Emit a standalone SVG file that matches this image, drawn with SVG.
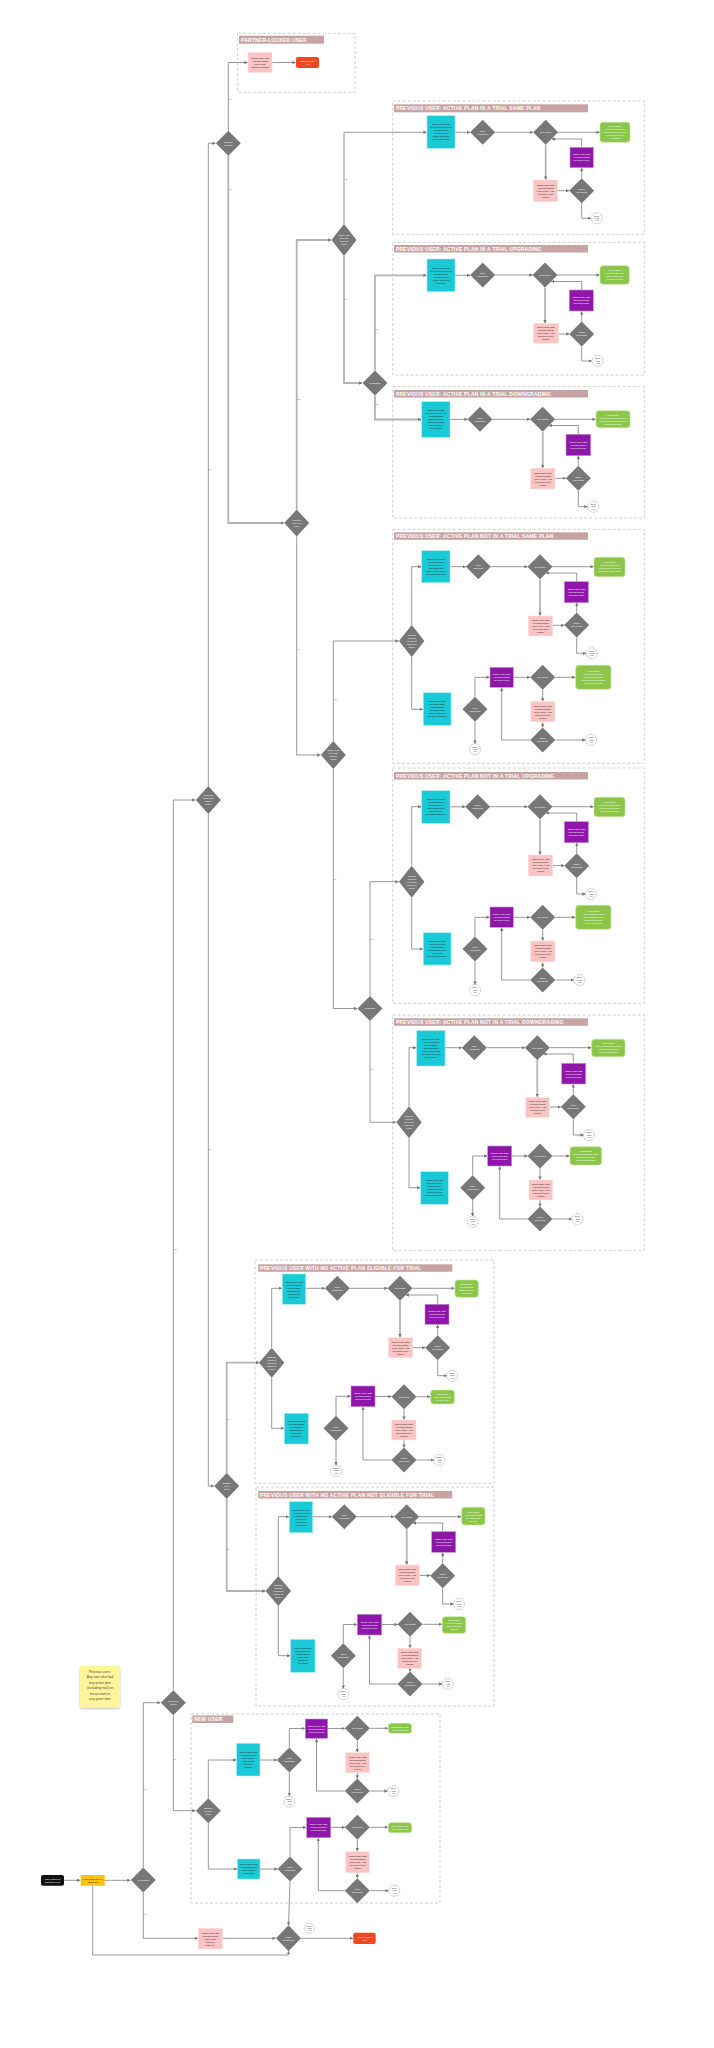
<svg xmlns="http://www.w3.org/2000/svg" width="714" height="2048" viewBox="0 0 714 2048">
<style>
.sec{fill:none;stroke:#cfcfcf;stroke-width:1;stroke-dasharray:3 2}
.tb{fill:#c8a3a3}
.tt{font-family:"Liberation Sans",Arial,sans-serif;font-weight:bold;font-size:5px;fill:#fff;letter-spacing:0.2px}
.d{fill:#777}
.cy{fill:#19c9d6;stroke:#a9ecf1;stroke-width:0.6}
.pu{fill:#8e16a8;stroke:#c68fd3;stroke-width:0.6}
.pk{fill:#fbc4c4;stroke:#fde0e0;stroke-width:0.6}
.gr{fill:#8bc64a;stroke:#c5e6a3;stroke-width:0.6}
.rd{fill:#f2461e}
.cc{fill:#fff;stroke:#555;stroke-width:0.45;stroke-dasharray:0.9 0.7}
.t{font-family:"Liberation Sans",Arial,sans-serif;font-size:2.5px;text-anchor:middle}
.w{fill:#fff}
.k{fill:#222}
.s{font-size:1.8px}
.c{fill:none;stroke:#8c8c8c;stroke-width:0.9;marker-end:url(#a)}
.th{stroke:#b4b4b4;stroke-width:1.8}
.lb{font-family:"Liberation Sans",Arial,sans-serif;font-size:2.4px;fill:#7070b8;text-anchor:middle}
</style>
<defs>
<marker id="a" viewBox="0 0 6 6" refX="5.5" refY="3" markerWidth="3.4" markerHeight="3.4" markerUnits="userSpaceOnUse" orient="auto"><path d="M0,0 L6,3 L0,6z" fill="#777"/></marker>
<filter id="sh" x="-20%" y="-20%" width="140%" height="150%"><feDropShadow dx="0" dy="1.5" stdDeviation="1.2" flood-color="#000" flood-opacity="0.25"/></filter>
</defs>

<g id="sections">
<rect class="sec" x="237.7" y="33.3" width="117.3" height="59"/>
<rect class="tb" x="239" y="35.7" width="85" height="8"/><text class="tt" x="241" y="41.6">PARTNER-LOCKED USER</text>
<rect class="sec" x="392.7" y="101" width="251.6" height="133.3"/>
<rect class="tb" x="394" y="104.3" width="194" height="8"/><text class="tt" x="396" y="110.2">PREVIOUS USER: ACTIVE PLAN IN A TRIAL SAME PLAN</text>
<rect class="sec" x="392.7" y="242.3" width="251.6" height="132.7"/>
<rect class="tb" x="394" y="245" width="194" height="7.5"/><text class="tt" x="396" y="250.7">PREVIOUS USER: ACTIVE PLAN IN A TRIAL UPGRADING</text>
<rect class="sec" x="392.7" y="386.7" width="251.6" height="131.3"/>
<rect class="tb" x="394" y="390" width="194" height="7.5"/><text class="tt" x="396" y="395.7">PREVIOUS USER: ACTIVE PLAN IN A TRIAL DOWNGRADING</text>
<rect class="sec" x="392.7" y="529.3" width="251.6" height="234"/>
<rect class="tb" x="394" y="532.3" width="194" height="7.5"/><text class="tt" x="396" y="538">PREVIOUS USER: ACTIVE PLAN NOT IN A TRIAL SAME PLAN</text>
<rect class="sec" x="392.7" y="768" width="251.6" height="235.3"/>
<rect class="tb" x="394" y="772" width="194" height="7.5"/><text class="tt" x="396" y="777.7">PREVIOUS USER: ACTIVE PLAN NOT IN A TRIAL UPGRADING</text>
<rect class="sec" x="392.7" y="1015" width="251.6" height="235.7"/>
<rect class="tb" x="394" y="1018.3" width="194" height="7.5"/><text class="tt" x="396" y="1024">PREVIOUS USER: ACTIVE PLAN NOT IN A TRIAL DOWNGRADING</text>
<rect class="sec" x="255" y="1260" width="239" height="223.3"/>
<rect class="tb" x="258.3" y="1264.3" width="194" height="7.5"/><text class="tt" x="260" y="1270">PREVIOUS USER WITH NO ACTIVE PLAN ELIGIBLE FOR TRIAL</text>
<rect class="sec" x="256" y="1487" width="238" height="219"/>
<rect class="tb" x="258.3" y="1491" width="194" height="7.5"/><text class="tt" x="260" y="1496.7">PREVIOUS USER WITH NO ACTIVE PLAN NOT ELIGIBLE FOR TRIAL</text>
<rect class="sec" x="191" y="1714" width="249" height="189"/>
<rect class="tb" x="192.3" y="1715.5" width="41" height="7.5"/><text class="tt" x="194" y="1721.2">NEW USER</text>
</g>

<g id="connectors">
<path class="c" d="M64,1880.3 H80.2"/>
<path class="c" d="M104.7,1880.3 H130.3"/>
<path class="c" d="M143.3,1867.5 V1702.7 H160.3"/>
<path class="c" d="M173.3,1690.2 V800 H195.3"/>
<path class="c" d="M208.3,786 V143.3 H215.3"/>
<path class="c" d="M208.3,814 V1486 H213.7"/>
<path class="c" d="M228.3,130.8 V62.5 H247.5"/>
<path class="c" d="M272,62.5 H295.5"/>
<path class="c th" d="M228.3,155.8 V523 H283.7"/>
<path class="c th" d="M296.7,509.5 V240 H331"/>
<path class="c" d="M296.7,536.5 V755 H320.3"/>
<path class="c th" d="M344,256 V383 H362"/>
<path class="c" d="M333.3,769 V1008.5 H357"/>
<path class="c" d="M143.3,1892.5 V1938.3 H197.8"/>
<path class="c" d="M222.3,1938.3 H275.5"/>
<path class="c" d="M301,1938.3 H352.8"/>
<path class="c" d="M92.7,1885.7 V1955 H288.5 V1951.3"/>
<path class="c" d="M173.3,1715.2 V1810.7 H195.3"/>
<path class="c th" d="M226.7,1473 V1362.7 H259"/>
<path class="c th" d="M226.7,1499 V1591 H265.3"/>
<!-- S1 -->
<path class="c" d="M344,224 V132.3 H426.5"/>
<path class="c" d="M455,132.3 H470"/>
<path class="c" d="M495.2,132.3 H533"/>
<path class="c" d="M558.2,132.3 H599.5"/>
<path class="c th" d="M545.7,144.8 V179.5"/>
<path class="c" d="M557.7,190.7 H569"/>
<path class="c" d="M581.7,178.2 V168"/>
<path class="c" d="M581.7,147.3 V139 H552"/>
<path class="c" d="M581.7,203.2 V218.3 H590.8"/>
<!-- S2 -->
<path class="c th" d="M375,370.5 V275.3 H426.5"/>
<path class="c" d="M455,275.3 H470.2"/>
<path class="c" d="M495.2,275 H532.5"/>
<path class="c" d="M557.5,275 H599.5"/>
<path class="c th" d="M545,287.5 V323"/>
<path class="c" d="M558.3,334 H569.2"/>
<path class="c" d="M581.7,321.5 V311.5"/>
<path class="c" d="M581.7,290 V281.5 H551.3"/>
<path class="c" d="M581.7,346.5 V361 H591.7"/>
<!-- S3 -->
<path class="c th" d="M375,395.5 V419.5 H421.2"/>
<path class="c" d="M450,419.4 H467.5"/>
<path class="c" d="M492.5,419.3 H530.2"/>
<path class="c" d="M555.2,419.3 H595.5"/>
<path class="c th" d="M542.7,431.8 V467.8"/>
<path class="c" d="M555,478.3 H565.8"/>
<path class="c" d="M578.3,465.8 V456"/>
<path class="c" d="M578.3,434.3 V425.5 H549"/>
<path class="c" d="M578.3,490.8 V506.7 H587.5"/>
<!-- S4 -->
<path class="c" d="M333.3,741 V641 H398.5"/>
<path class="c" d="M411.7,625 V566.7 H421.2"/>
<path class="c" d="M411.7,657 V709.3 H422.8"/>
<path class="c" d="M450,566.7 H465.8"/>
<path class="c" d="M490.8,566.7 H527.5"/>
<path class="c" d="M552.5,566.7 H593.5"/>
<path class="c th" d="M540,579.2 V615.5"/>
<path class="c" d="M552.7,625.3 H564.2"/>
<path class="c" d="M576.7,612.5 V603"/>
<path class="c" d="M576.7,581.7 V573 H546.3"/>
<path class="c" d="M576.7,637.5 V653.3 H586"/>
<path class="c" d="M475,696.8 V677.3 H489.5"/>
<path class="c" d="M475,721.8 V743.5"/>
<path class="c" d="M513.3,677.3 H530"/>
<path class="c" d="M555.2,677.3 H575.2"/>
<path class="c" d="M542.7,689.8 V701.2"/>
<path class="c" d="M542.7,721.7 V727.3"/>
<path class="c" d="M530.2,740 H501.7 V688"/>
<path class="c" d="M555.2,740 H585.3"/>
<!-- S5 -->
<path class="c" d="M370,996 V881.7 H398.5"/>
<path class="c" d="M411.7,865.7 V806.7 H421.2"/>
<path class="c" d="M411.7,897.7 V949 H422.8"/>
<path class="c" d="M450,806.8 H465.2"/>
<path class="c" d="M490.2,806.7 H527.5"/>
<path class="c" d="M552.5,806.7 H593.5"/>
<path class="c th" d="M540,819.2 V854.5"/>
<path class="c" d="M552.7,865.6 H564.2"/>
<path class="c" d="M576.7,853.2 V843.2"/>
<path class="c" d="M576.7,821.7 V813 H546.2"/>
<path class="c" d="M576.7,878.2 V894 H585.5"/>
<path class="c" d="M475,936.5 V917.3 H489.5"/>
<path class="c" d="M475,961.5 V984.5"/>
<path class="c" d="M513.3,917.3 H530"/>
<path class="c" d="M555.2,917.3 H575.2"/>
<path class="c" d="M542.7,929.8 V940.5"/>
<path class="c" d="M542.7,961.7 V967.3"/>
<path class="c" d="M530.2,980 H501.7 V927.8"/>
<path class="c" d="M555.2,980 H573.8"/>
<!-- S6 -->
<path class="c" d="M370,1021 V1122.3 H395.8"/>
<path class="c" d="M409,1106.3 V1047.7 H416.2"/>
<path class="c" d="M409,1138.3 V1187.7 H420.2"/>
<path class="c" d="M445,1047.7 H461.8"/>
<path class="c" d="M486.8,1047.7 H524.8"/>
<path class="c" d="M549.8,1047.7 H591.2"/>
<path class="c th" d="M537.3,1060.2 V1096.8"/>
<path class="c" d="M549.3,1107 H560.8"/>
<path class="c" d="M573.3,1094.2 V1084.5"/>
<path class="c" d="M573.3,1063.3 V1054 H543.5"/>
<path class="c" d="M573.3,1119.2 V1135 H583.5"/>
<path class="c" d="M472.7,1175.2 V1156 H487.2"/>
<path class="c" d="M472.7,1200.2 V1216.2"/>
<path class="c" d="M511.7,1156 H527.5"/>
<path class="c" d="M552.5,1156 H569.5"/>
<path class="c" d="M540,1168.5 V1179.5"/>
<path class="c" d="M540,1200 V1206.5"/>
<path class="c" d="M527.5,1219 H499.7 V1166.5"/>
<path class="c" d="M552.5,1219 H571.8"/>
<!-- S7 -->
<path class="c" d="M271.7,1347.7 V1288.3 H281.8"/>
<path class="c" d="M271.7,1377.7 V1428.3 H283.8"/>
<path class="c" d="M305.7,1288.3 H324.8"/>
<path class="c" d="M349.8,1288.3 H387.5"/>
<path class="c" d="M412.5,1288.3 H454.5"/>
<path class="c th" d="M400,1300.8 V1337.2"/>
<path class="c" d="M412.7,1347.7 H425.2"/>
<path class="c" d="M437.7,1335.2 V1324.8"/>
<path class="c" d="M437.7,1304.3 V1295 H405.8"/>
<path class="c" d="M437.7,1360.2 V1375.7 H446.8"/>
<path class="c" d="M336,1415.8 V1396.3 H350.5"/>
<path class="c" d="M336,1440.8 V1465.2"/>
<path class="c" d="M375,1396.5 H391.5"/>
<path class="c" d="M416.5,1396.7 H430.2"/>
<path class="c" d="M404,1409.2 V1419.5"/>
<path class="c" d="M404,1440 V1447.5"/>
<path class="c" d="M391.5,1460 H363 V1407.2"/>
<path class="c" d="M416.5,1460 H433.8"/>
<!-- S8 -->
<path class="c" d="M278.3,1576 V1516.7 H288.8"/>
<path class="c" d="M278.3,1606 V1655.7 H290.2"/>
<path class="c" d="M312.7,1516.8 H331.8"/>
<path class="c" d="M356.8,1516.7 H394.2"/>
<path class="c" d="M419.2,1516.7 H461.2"/>
<path class="c th" d="M406.7,1529.2 V1564.5"/>
<path class="c" d="M419.3,1575.5 H430.2"/>
<path class="c" d="M442.7,1563.2 V1552.8"/>
<path class="c" d="M442.7,1531.7 V1523 H412.9"/>
<path class="c" d="M442.7,1588.2 V1604 H453.5"/>
<path class="c" d="M343.3,1643.2 V1624.5 H356.8"/>
<path class="c" d="M343.3,1668.2 V1688.5"/>
<path class="c" d="M381.7,1624.5 H397.5"/>
<path class="c" d="M422.5,1624.3 H441.8"/>
<path class="c" d="M410,1636.8 V1647.8"/>
<path class="c" d="M410,1668.3 V1671.5"/>
<path class="c" d="M397.5,1684 H369.5 V1635.5"/>
<path class="c" d="M422.5,1684 H442.2"/>
<!-- S9 -->
<path class="c" d="M208.3,1798.2 V1760 H236.2"/>
<path class="c" d="M208.3,1823.2 V1869 H236.8"/>
<path class="c" d="M260,1760 H276.8"/>
<path class="c" d="M289.3,1747.5 V1728.5 H304.8"/>
<path class="c" d="M289.3,1772.5 V1795.8"/>
<path class="c" d="M327.7,1728.5 H344.8"/>
<path class="c" d="M369.8,1728.3 H387.8"/>
<path class="c" d="M357.3,1740.8 V1752.2"/>
<path class="c" d="M357.3,1772.7 V1778.3"/>
<path class="c" d="M344.8,1791 H316.5 V1738.8"/>
<path class="c" d="M369.8,1791 H387.5"/>
<path class="c" d="M260,1869 H277.5"/>
<path class="c" d="M290,1856.5 V1827.5 H306.2"/>
<path class="c" d="M330.7,1827.4 H344.8"/>
<path class="c" d="M369.8,1827.3 H387.8"/>
<path class="c" d="M357.3,1839.8 V1851.2"/>
<path class="c" d="M357.3,1872.7 V1878"/>
<path class="c" d="M344.8,1890.7 H318.3 V1838.2"/>
<path class="c" d="M369.8,1890.7 H388.5"/>
<path class="c" d="M290,1881.5 L288.5,1925.3"/>
<!-- trunk labels -->
<text class="lb" x="229.8" y="100">Yes</text>
<text class="lb" x="229.8" y="190">No</text>
<text class="lb" x="209.8" y="470">Yes</text>
<text class="lb" x="209.8" y="1150">No</text>
<text class="lb" x="298.2" y="400">Yes</text>
<text class="lb" x="298.2" y="650">No</text>
<text class="lb" x="345.5" y="180">Yes</text>
<text class="lb" x="345.5" y="300">No</text>
<text class="lb" x="376.5" y="330">Yes</text>
<text class="lb" x="376.5" y="405">No</text>
<text class="lb" x="334.8" y="700">Yes</text>
<text class="lb" x="334.8" y="880">No</text>
<text class="lb" x="371.5" y="940">Yes</text>
<text class="lb" x="371.5" y="1070">No</text>
<text class="lb" x="228.2" y="1420">Yes</text>
<text class="lb" x="228.2" y="1550">No</text>
<text class="lb" x="174.8" y="1250">Yes</text>
<text class="lb" x="174.8" y="1760">No</text>
<text class="lb" x="144.8" y="1790">Yes</text>
<text class="lb" x="144.8" y="1915">No</text>
</g>

<g id="start"><rect x="41" y="1875" width="23" height="10.7" rx="2" fill="#111"/><text class="t w" x="52.5" y="1879.7"><tspan x="52.5">User clicks on</tspan><tspan x="52.5" dy="3">subscribe link</tspan></text></g>
<g id="checkout"><rect x="80.7" y="1875" width="24" height="10.7" fill="#ffc20e"/><text class="t k" x="92.7" y="1879.7"><tspan x="92.7">User redirected to</tspan><tspan x="92.7" dy="3">checkout</tspan></text></g>
<g id="note"><rect x="80" y="1666" width="40" height="41.3" fill="#fff59b" filter="url(#sh)"/><text x="100" y="1673" font-family="Liberation Sans, Arial, sans-serif" font-size="3.3" fill="#444" text-anchor="middle"><tspan x="100">Previous users:</tspan><tspan x="100" dy="5.4">Any user who had</tspan><tspan x="100" dy="5.4">any active plan</tspan><tspan x="100" dy="5.4">(including trial) on</tspan><tspan x="100" dy="5.4">his account in</tspan><tspan x="100" dy="5.4">any given time</tspan></text></g>
<g id="d_logged"><polygon class="d" points="143.3,1867.5 155.8,1880 143.3,1892.5 130.8,1880"/><text class="t w" x="143.3" y="1880.9">Is logged?</text></g>
<g id="d_prev"><polygon class="d" points="173.3,1690.2 185.8,1702.7 173.3,1715.2 160.8,1702.7"/><text class="t w" x="173.3" y="1702.1"><tspan x="173.3">Previous</tspan><tspan x="173.3" dy="3">user?</tspan></text></g>
<g id="d_active"><polygon class="d" points="208.3,786 220.8,800 208.3,814 195.8,800"/><text class="t w" x="208.3" y="796.4"><tspan x="208.3">Previous</tspan><tspan x="208.3" dy="3">user with</tspan><tspan x="208.3" dy="3">active</tspan><tspan x="208.3" dy="3">plan?</tspan></text></g>
<g id="d_partner"><polygon class="d" points="228.3,130.8 240.8,143.3 228.3,155.8 215.8,143.3"/><text class="t w" x="228.3" y="142.7"><tspan x="228.3">Partner</tspan><tspan x="228.3" dy="3">locked?</tspan></text></g>
<g id="partner_err"><rect class="pk" x="248" y="52.5" width="24" height="20"/><text class="t k" x="260" y="58.9"><tspan x="260">Show page with</tspan><tspan x="260" dy="3">corresponding</tspan><tspan x="260" dy="3">error code</tspan><tspan x="260" dy="3">(Partner locked)</tspan></text></g>
<g id="partner_exit"><rect class="rd" x="296" y="57" width="23" height="11" rx="2"/><text class="t w" x="307.5" y="61.9"><tspan x="307.5">Unsuccessful</tspan><tspan x="307.5" dy="3">exit</tspan></text></g>
<g id="d_trial"><polygon class="d" points="296.7,509.5 309.2,523 296.7,536.5 284.2,523"/><text class="t w" x="296.7" y="520.9"><tspan x="296.7">Is active</tspan><tspan x="296.7" dy="3">plan in a</tspan><tspan x="296.7" dy="3">trial?</tspan></text></g>
<g id="d_same1"><polygon class="d" points="344,224 356.5,240 344,256 331.5,240"/><text class="t w" x="344" y="236.4"><tspan x="344">Same plan</tspan><tspan x="344" dy="3">as in the</tspan><tspan x="344" dy="3">current</tspan><tspan x="344" dy="3">plan?</tspan></text></g>
<g id="d_up1"><polygon class="d" points="375,370.5 387.5,383 375,395.5 362.5,383"/><text class="t w" x="375" y="383.9">Upgrade?</text></g>
<g id="d_same2"><polygon class="d" points="333.3,741 345.8,755 333.3,769 320.8,755"/><text class="t w" x="333.3" y="751.4"><tspan x="333.3">Same plan</tspan><tspan x="333.3" dy="3">as in the</tspan><tspan x="333.3" dy="3">current</tspan><tspan x="333.3" dy="3">plan?</tspan></text></g>
<g id="d_up2"><polygon class="d" points="370,996 382.5,1008.5 370,1021 357.5,1008.5"/><text class="t w" x="370" y="1009.4">Upgrade?</text></g>
<g id="d_elig"><polygon class="d" points="226.7,1473 239.2,1486 226.7,1499 214.2,1486"/><text class="t w" x="226.7" y="1483.9"><tspan x="226.7">Eligible</tspan><tspan x="226.7" dy="3">for a</tspan><tspan x="226.7" dy="3">trial?</tspan></text></g>

<!-- S1 -->
<g id="s1_cyan"><rect class="cy" x="427" y="115.7" width="28" height="32.6"/><text class="t k" x="441" y="125.4"><tspan x="441">Show page with</tspan><tspan x="441" dy="3">corresponding plan</tspan><tspan x="441" dy="3">confirmation</tspan><tspan x="441" dy="3">(Existing plan</tspan><tspan x="441" dy="3">active with trial</tspan><tspan x="441" dy="3">expiration date)</tspan></text></g>
<g id="s1_uc"><polygon class="d" points="482.7,119.8 495.2,132.3 482.7,144.8 470.2,132.3"/><text class="t w" x="482.7" y="131.7"><tspan x="482.7">User</tspan><tspan x="482.7" dy="3">confirms?</tspan></text></g>
<g id="s1_iv"><polygon class="d" points="545.7,119.8 558.2,132.3 545.7,144.8 533.2,132.3"/><text class="t w" x="545.7" y="133.2">Is it valid?</text></g>
<g id="s1_green"><rect class="gr" x="600" y="122.3" width="30" height="20" rx="3"/><text class="t w" x="615" y="127.2"><tspan x="615">Successful</tspan><tspan x="615" dy="3">exit; keeping user</tspan><tspan x="615" dy="3">active with previous</tspan><tspan x="615" dy="3">payment in trial</tspan><tspan x="615" dy="3">expiration</tspan></text></g>
<g id="s1_purple"><rect class="pu" x="570" y="147.3" width="23.3" height="20.4"/><text class="t w" x="581.65" y="155.4"><tspan x="581.65">Show page with</tspan><tspan x="581.65" dy="3">corresponding</tspan><tspan x="581.65" dy="3">payment page</tspan></text></g>
<g id="s1_pink"><rect class="pk" x="533.3" y="180" width="24.4" height="21.7"/><text class="t k" x="545.5" y="185.75"><tspan x="545.5">Show page with</tspan><tspan x="545.5" dy="3">corresponding</tspan><tspan x="545.5" dy="3">error code (And</tspan><tspan x="545.5" dy="3">payment error</tspan><tspan x="545.5" dy="3">codes)</tspan></text></g>
<g id="s1_op"><polygon class="d" points="581.7,178.2 594.2,190.7 581.7,203.2 569.2,190.7"/><text class="t w" x="581.7" y="190.1"><tspan x="581.7">Other</tspan><tspan x="581.7" dy="3">payment?</tspan></text></g>
<g id="s1_exit"><circle class="cc" cx="596.7" cy="218.3" r="5.5"/><text class="t k s" x="596.7" y="216.7"><tspan x="596.7">Expire</tspan><tspan x="596.7" dy="2.2">/ close</tspan><tspan x="596.7" dy="2.2">/ exit</tspan></text></g>

<!-- S2 -->
<g id="s2_cyan"><rect class="cy" x="427" y="259" width="28" height="32.7"/><text class="t k" x="441" y="268.75"><tspan x="441">Show page with</tspan><tspan x="441" dy="3">corresponding plan</tspan><tspan x="441" dy="3">confirmation</tspan><tspan x="441" dy="3">(Existing plan</tspan><tspan x="441" dy="3">active with trial</tspan><tspan x="441" dy="3">upgrade)</tspan></text></g>
<g id="s2_uc"><polygon class="d" points="482.7,262.5 495.2,275 482.7,287.5 470.2,275"/><text class="t w" x="482.7" y="274.4"><tspan x="482.7">User</tspan><tspan x="482.7" dy="3">confirms?</tspan></text></g>
<g id="s2_iv"><polygon class="d" points="545,262.5 557.5,275 545,287.5 532.5,275"/><text class="t w" x="545" y="275.9">Is it valid?</text></g>
<g id="s2_green"><rect class="gr" x="600" y="265.7" width="29.3" height="18.6" rx="3"/><text class="t w" x="614.65" y="271.4"><tspan x="614.65">Successful</tspan><tspan x="614.65" dy="3">exit; keeping user</tspan><tspan x="614.65" dy="3">active with plan</tspan><tspan x="614.65" dy="3">upgrade in trial</tspan></text></g>
<g id="s2_purple"><rect class="pu" x="569.3" y="290" width="24" height="21"/><text class="t w" x="581.3" y="298.4"><tspan x="581.3">Show page with</tspan><tspan x="581.3" dy="3">corresponding</tspan><tspan x="581.3" dy="3">payment page</tspan></text></g>
<g id="s2_pink"><rect class="pk" x="533.3" y="323.3" width="25" height="20"/><text class="t k" x="545.8" y="328.2"><tspan x="545.8">Show page with</tspan><tspan x="545.8" dy="3">corresponding</tspan><tspan x="545.8" dy="3">error code (And</tspan><tspan x="545.8" dy="3">payment error</tspan><tspan x="545.8" dy="3">codes)</tspan></text></g>
<g id="s2_op"><polygon class="d" points="581.7,321.5 594.2,334 581.7,346.5 569.2,334"/><text class="t w" x="581.7" y="333.4"><tspan x="581.7">Other</tspan><tspan x="581.7" dy="3">payment?</tspan></text></g>
<g id="s2_exit"><circle class="cc" cx="597.7" cy="361" r="5.5"/><text class="t k s" x="597.7" y="359.4"><tspan x="597.7">Expire</tspan><tspan x="597.7" dy="2.2">/ close</tspan><tspan x="597.7" dy="2.2">/ exit</tspan></text></g>

<!-- S3 -->
<g id="s3_cyan"><rect class="cy" x="421.7" y="401.7" width="28.3" height="35.6"/><text class="t k" x="435.85" y="411.4"><tspan x="435.85">Show page with</tspan><tspan x="435.85" dy="3">corresponding plan</tspan><tspan x="435.85" dy="3">confirmation</tspan><tspan x="435.85" dy="3">(Existing plan</tspan><tspan x="435.85" dy="3">active with trial</tspan><tspan x="435.85" dy="3">downgrade in</tspan><tspan x="435.85" dy="3">next billing)</tspan></text></g>
<g id="s3_uc"><polygon class="d" points="480,406.8 492.5,419.3 480,431.8 467.5,419.3"/><text class="t w" x="480" y="418.7"><tspan x="480">User</tspan><tspan x="480" dy="3">confirms?</tspan></text></g>
<g id="s3_iv"><polygon class="d" points="542.7,406.8 555.2,419.3 542.7,431.8 530.2,419.3"/><text class="t w" x="542.7" y="420.2">Is it valid?</text></g>
<g id="s3_green"><rect class="gr" x="596" y="410.7" width="34" height="17" rx="3"/><text class="t w" x="613" y="415.6"><tspan x="613">Successful</tspan><tspan x="613" dy="3">exit; keeping user active</tspan><tspan x="613" dy="3">with previous payment in</tspan><tspan x="613" dy="3">trial downgrade</tspan></text></g>
<g id="s3_purple"><rect class="pu" x="566" y="434.3" width="24.7" height="21.4"/><text class="t w" x="578.35" y="442.9"><tspan x="578.35">Show page with</tspan><tspan x="578.35" dy="3">corresponding</tspan><tspan x="578.35" dy="3">payment page</tspan></text></g>
<g id="s3_pink"><rect class="pk" x="530.7" y="468.3" width="24.3" height="20.7"/><text class="t k" x="542.85" y="473.55"><tspan x="542.85">Show page with</tspan><tspan x="542.85" dy="3">corresponding</tspan><tspan x="542.85" dy="3">error code (And</tspan><tspan x="542.85" dy="3">payment error</tspan><tspan x="542.85" dy="3">codes)</tspan></text></g>
<g id="s3_op"><polygon class="d" points="578.3,465.8 590.8,478.3 578.3,490.8 565.8,478.3"/><text class="t w" x="578.3" y="477.7"><tspan x="578.3">Other</tspan><tspan x="578.3" dy="3">payment?</tspan></text></g>
<g id="s3_exit"><circle class="cc" cx="593.3" cy="506.7" r="5.5"/><text class="t k s" x="593.3" y="505.1"><tspan x="593.3">Expire</tspan><tspan x="593.3" dy="2.2">/ close</tspan><tspan x="593.3" dy="2.2">/ exit</tspan></text></g>

<!-- S4 -->
<g id="s4_choose"><polygon class="d" points="411.7,625 424.4,641 411.7,657 399,641"/><text class="t w" x="411.7" y="636"><tspan x="411.7">Choose</tspan><tspan x="411.7" dy="3">current</tspan><tspan x="411.7" dy="3">payment</tspan><tspan x="411.7" dy="3">option or</tspan><tspan x="411.7" dy="3">new?</tspan></text></g>
<g id="s4_cyan1"><rect class="cy" x="421.7" y="550.7" width="28.3" height="32"/><text class="t k" x="435.85" y="560.1"><tspan x="435.85">Show page with</tspan><tspan x="435.85" dy="3">corresponding</tspan><tspan x="435.85" dy="3">confirmation</tspan><tspan x="435.85" dy="3">(Existing plan</tspan><tspan x="435.85" dy="3">active with current</tspan><tspan x="435.85" dy="3">payment method)</tspan></text></g>
<g id="s4_uc1"><polygon class="d" points="478.3,554.2 490.8,566.7 478.3,579.2 465.8,566.7"/><text class="t w" x="478.3" y="566.1"><tspan x="478.3">User</tspan><tspan x="478.3" dy="3">confirms?</tspan></text></g>
<g id="s4_iv1"><polygon class="d" points="540,554.2 552.5,566.7 540,579.2 527.5,566.7"/><text class="t w" x="540" y="567.6">Is it valid?</text></g>
<g id="s4_green1"><rect class="gr" x="594" y="557.3" width="31" height="19.4" rx="3"/><text class="t w" x="609.5" y="563.4"><tspan x="609.5">Successful</tspan><tspan x="609.5" dy="3">exit; keeping user</tspan><tspan x="609.5" dy="3">active with previous</tspan><tspan x="609.5" dy="3">payment in the plan</tspan></text></g>
<g id="s4_purple1"><rect class="pu" x="564.3" y="581.7" width="24" height="21"/><text class="t w" x="576.3" y="590.1"><tspan x="576.3">Show page with</tspan><tspan x="576.3" dy="3">corresponding</tspan><tspan x="576.3" dy="3">payment page</tspan></text></g>
<g id="s4_pink1"><rect class="pk" x="528.3" y="616" width="24.4" height="20"/><text class="t k" x="540.5" y="620.9"><tspan x="540.5">Show page with</tspan><tspan x="540.5" dy="3">corresponding</tspan><tspan x="540.5" dy="3">error code (And</tspan><tspan x="540.5" dy="3">payment error</tspan><tspan x="540.5" dy="3">codes)</tspan></text></g>
<g id="s4_op1"><polygon class="d" points="576.7,612.5 589.2,625 576.7,637.5 564.2,625"/><text class="t w" x="576.7" y="624.4"><tspan x="576.7">Other</tspan><tspan x="576.7" dy="3">payment?</tspan></text></g>
<g id="s4_exit1"><circle class="cc" cx="591.7" cy="653.3" r="5.5"/><text class="t k s" x="591.7" y="651.7"><tspan x="591.7">Expire</tspan><tspan x="591.7" dy="2.2">/ close</tspan><tspan x="591.7" dy="2.2">/ exit</tspan></text></g>
<g id="s4_cyan2"><rect class="cy" x="423.3" y="692.7" width="27.7" height="32.6"/><text class="t k" x="437.15" y="702.4"><tspan x="437.15">Show page with</tspan><tspan x="437.15" dy="3">corresponding</tspan><tspan x="437.15" dy="3">confirmation</tspan><tspan x="437.15" dy="3">(Existing plan</tspan><tspan x="437.15" dy="3">active with new</tspan><tspan x="437.15" dy="3">payment method)</tspan></text></g>
<g id="s4_uc2"><polygon class="d" points="475,696.8 487.5,709.3 475,721.8 462.5,709.3"/><text class="t w" x="475" y="708.7"><tspan x="475">User</tspan><tspan x="475" dy="3">confirms?</tspan></text></g>
<g id="s4_exitb"><circle class="cc" cx="475" cy="749.3" r="5.5"/><text class="t k s" x="475" y="747.7"><tspan x="475">Expire</tspan><tspan x="475" dy="2.2">/ close</tspan><tspan x="475" dy="2.2">/ exit</tspan></text></g>
<g id="s4_purple2"><rect class="pu" x="490" y="667.3" width="23.3" height="20"/><text class="t w" x="501.65" y="675.2"><tspan x="501.65">Show page with</tspan><tspan x="501.65" dy="3">corresponding</tspan><tspan x="501.65" dy="3">payment page</tspan></text></g>
<g id="s4_iv2"><polygon class="d" points="542.7,664.8 555.2,677.3 542.7,689.8 530.2,677.3"/><text class="t w" x="542.7" y="678.2">Is it valid?</text></g>
<g id="s4_green2"><rect class="gr" x="575.7" y="665.3" width="35.3" height="24" rx="3"/><text class="t w" x="593.35" y="672.2"><tspan x="593.35">Successful</tspan><tspan x="593.35" dy="3">exit; replacing plan</tspan><tspan x="593.35" dy="3">payment with the</tspan><tspan x="593.35" dy="3">new payment method</tspan><tspan x="593.35" dy="3">in the same plan</tspan></text></g>
<g id="s4_pink2"><rect class="pk" x="530.7" y="701.7" width="24.3" height="20"/><text class="t k" x="542.85" y="706.6"><tspan x="542.85">Show page with</tspan><tspan x="542.85" dy="3">corresponding</tspan><tspan x="542.85" dy="3">error code (And</tspan><tspan x="542.85" dy="3">payment error</tspan><tspan x="542.85" dy="3">codes)</tspan></text></g>
<g id="s4_op2"><polygon class="d" points="542.7,727.5 555.2,740 542.7,752.5 530.2,740"/><text class="t w" x="542.7" y="739.4"><tspan x="542.7">Other</tspan><tspan x="542.7" dy="3">payment?</tspan></text></g>
<g id="s4_exit2"><circle class="cc" cx="591" cy="740" r="5.5"/><text class="t k s" x="591" y="738.4"><tspan x="591">Expire</tspan><tspan x="591" dy="2.2">/ close</tspan><tspan x="591" dy="2.2">/ exit</tspan></text></g>

<!-- S5 -->
<g id="s5_choose"><polygon class="d" points="411.7,865.7 424.4,881.7 411.7,897.7 399,881.7"/><text class="t w" x="411.7" y="876.7"><tspan x="411.7">Choose</tspan><tspan x="411.7" dy="3">current</tspan><tspan x="411.7" dy="3">payment</tspan><tspan x="411.7" dy="3">option or</tspan><tspan x="411.7" dy="3">new?</tspan></text></g>
<g id="s5_cyan1"><rect class="cy" x="421.7" y="790.7" width="28.3" height="32.6"/><text class="t k" x="435.85" y="800.4"><tspan x="435.85">Show page with</tspan><tspan x="435.85" dy="3">corresponding</tspan><tspan x="435.85" dy="3">confirmation</tspan><tspan x="435.85" dy="3">(Upgrading plan</tspan><tspan x="435.85" dy="3">with current</tspan><tspan x="435.85" dy="3">payment method)</tspan></text></g>
<g id="s5_uc1"><polygon class="d" points="477.7,794.2 490.2,806.7 477.7,819.2 465.2,806.7"/><text class="t w" x="477.7" y="806.1"><tspan x="477.7">User</tspan><tspan x="477.7" dy="3">confirms?</tspan></text></g>
<g id="s5_iv1"><polygon class="d" points="540,794.2 552.5,806.7 540,819.2 527.5,806.7"/><text class="t w" x="540" y="807.6">Is it valid?</text></g>
<g id="s5_green1"><rect class="gr" x="594" y="797.3" width="31" height="19.4" rx="3"/><text class="t w" x="609.5" y="803.4"><tspan x="609.5">Successful</tspan><tspan x="609.5" dy="3">exit; upgrading user</tspan><tspan x="609.5" dy="3">plan with previous</tspan><tspan x="609.5" dy="3">payment method</tspan></text></g>
<g id="s5_purple1"><rect class="pu" x="564.3" y="821.7" width="24" height="21"/><text class="t w" x="576.3" y="830.1"><tspan x="576.3">Show page with</tspan><tspan x="576.3" dy="3">corresponding</tspan><tspan x="576.3" dy="3">payment page</tspan></text></g>
<g id="s5_pink1"><rect class="pk" x="528.3" y="855" width="24.4" height="21"/><text class="t k" x="540.5" y="860.4"><tspan x="540.5">Show page with</tspan><tspan x="540.5" dy="3">corresponding</tspan><tspan x="540.5" dy="3">error code (And</tspan><tspan x="540.5" dy="3">payment error</tspan><tspan x="540.5" dy="3">codes)</tspan></text></g>
<g id="s5_op1"><polygon class="d" points="576.7,853.2 589.2,865.7 576.7,878.2 564.2,865.7"/><text class="t w" x="576.7" y="865.1"><tspan x="576.7">Other</tspan><tspan x="576.7" dy="3">payment?</tspan></text></g>
<g id="s5_exit1"><circle class="cc" cx="591" cy="894" r="5.5"/><text class="t k s" x="591" y="892.4"><tspan x="591">Expire</tspan><tspan x="591" dy="2.2">/ close</tspan><tspan x="591" dy="2.2">/ exit</tspan></text></g>
<g id="s5_cyan2"><rect class="cy" x="423.3" y="932.7" width="27.7" height="32.3"/><text class="t k" x="437.15" y="942.25"><tspan x="437.15">Show page with</tspan><tspan x="437.15" dy="3">corresponding</tspan><tspan x="437.15" dy="3">confirmation</tspan><tspan x="437.15" dy="3">(Upgrading plan</tspan><tspan x="437.15" dy="3">with new</tspan><tspan x="437.15" dy="3">payment method)</tspan></text></g>
<g id="s5_uc2"><polygon class="d" points="475,936.5 487.5,949 475,961.5 462.5,949"/><text class="t w" x="475" y="948.4"><tspan x="475">User</tspan><tspan x="475" dy="3">confirms?</tspan></text></g>
<g id="s5_exitb"><circle class="cc" cx="475" cy="990" r="5.5"/><text class="t k s" x="475" y="988.4"><tspan x="475">Expire</tspan><tspan x="475" dy="2.2">/ close</tspan><tspan x="475" dy="2.2">/ exit</tspan></text></g>
<g id="s5_purple2"><rect class="pu" x="490" y="907" width="23.3" height="20.3"/><text class="t w" x="501.65" y="915.05"><tspan x="501.65">Show page with</tspan><tspan x="501.65" dy="3">corresponding</tspan><tspan x="501.65" dy="3">payment page</tspan></text></g>
<g id="s5_iv2"><polygon class="d" points="542.7,904.8 555.2,917.3 542.7,929.8 530.2,917.3"/><text class="t w" x="542.7" y="918.2">Is it valid?</text></g>
<g id="s5_green2"><rect class="gr" x="575.7" y="905.3" width="35.3" height="24" rx="3"/><text class="t w" x="593.35" y="912.2"><tspan x="593.35">Successful</tspan><tspan x="593.35" dy="3">exit; upgrading user</tspan><tspan x="593.35" dy="3">plan with the new</tspan><tspan x="593.35" dy="3">payment method</tspan><tspan x="593.35" dy="3">in the new plan</tspan></text></g>
<g id="s5_pink2"><rect class="pk" x="530.7" y="941" width="24.3" height="20.7"/><text class="t k" x="542.85" y="946.25"><tspan x="542.85">Show page with</tspan><tspan x="542.85" dy="3">corresponding</tspan><tspan x="542.85" dy="3">error code (And</tspan><tspan x="542.85" dy="3">payment error</tspan><tspan x="542.85" dy="3">codes)</tspan></text></g>
<g id="s5_op2"><polygon class="d" points="542.7,967.5 555.2,980 542.7,992.5 530.2,980"/><text class="t w" x="542.7" y="979.4"><tspan x="542.7">Other</tspan><tspan x="542.7" dy="3">payment?</tspan></text></g>
<g id="s5_exit2"><circle class="cc" cx="579.3" cy="980" r="5.5"/><text class="t k s" x="579.3" y="978.4"><tspan x="579.3">Expire</tspan><tspan x="579.3" dy="2.2">/ close</tspan><tspan x="579.3" dy="2.2">/ exit</tspan></text></g>

<!-- S6 -->
<g id="s6_choose"><polygon class="d" points="409,1106.3 421.7,1122.3 409,1138.3 396.3,1122.3"/><text class="t w" x="409" y="1117.3"><tspan x="409">Choose</tspan><tspan x="409" dy="3">current</tspan><tspan x="409" dy="3">payment</tspan><tspan x="409" dy="3">option or</tspan><tspan x="409" dy="3">new?</tspan></text></g>
<g id="s6_cyan1"><rect class="cy" x="416.7" y="1030.7" width="28.3" height="35.3"/><text class="t k" x="430.85" y="1040.25"><tspan x="430.85">Show page with</tspan><tspan x="430.85" dy="3">corresponding</tspan><tspan x="430.85" dy="3">confirmation</tspan><tspan x="430.85" dy="3">(Downgrading</tspan><tspan x="430.85" dy="3">plan with current</tspan><tspan x="430.85" dy="3">payment, on next</tspan><tspan x="430.85" dy="3">billing date)</tspan></text></g>
<g id="s6_uc1"><polygon class="d" points="474.3,1035.2 486.8,1047.7 474.3,1060.2 461.8,1047.7"/><text class="t w" x="474.3" y="1047.1"><tspan x="474.3">User</tspan><tspan x="474.3" dy="3">confirms?</tspan></text></g>
<g id="s6_iv1"><polygon class="d" points="537.3,1035.2 549.8,1047.7 537.3,1060.2 524.8,1047.7"/><text class="t w" x="537.3" y="1048.6">Is it valid?</text></g>
<g id="s6_green1"><rect class="gr" x="591.7" y="1039.3" width="33.3" height="17.4" rx="3"/><text class="t w" x="608.35" y="1044.4"><tspan x="608.35">Successful</tspan><tspan x="608.35" dy="3">exit; downgrading user</tspan><tspan x="608.35" dy="3">plan with previous</tspan><tspan x="608.35" dy="3">payment method</tspan></text></g>
<g id="s6_purple1"><rect class="pu" x="561.7" y="1063.3" width="24" height="20.7"/><text class="t w" x="573.7" y="1071.55"><tspan x="573.7">Show page with</tspan><tspan x="573.7" dy="3">corresponding</tspan><tspan x="573.7" dy="3">payment page</tspan></text></g>
<g id="s6_pink1"><rect class="pk" x="525.7" y="1097.3" width="23.6" height="20"/><text class="t k" x="537.5" y="1102.2"><tspan x="537.5">Show page with</tspan><tspan x="537.5" dy="3">corresponding</tspan><tspan x="537.5" dy="3">error code (And</tspan><tspan x="537.5" dy="3">payment error</tspan><tspan x="537.5" dy="3">codes)</tspan></text></g>
<g id="s6_op1"><polygon class="d" points="573.3,1094.2 585.8,1106.7 573.3,1119.2 560.8,1106.7"/><text class="t w" x="573.3" y="1106.1"><tspan x="573.3">Other</tspan><tspan x="573.3" dy="3">payment?</tspan></text></g>
<g id="s6_exit1"><circle class="cc" cx="589" cy="1135" r="5.5"/><text class="t k s" x="589" y="1133.4"><tspan x="589">Expire</tspan><tspan x="589" dy="2.2">/ close</tspan><tspan x="589" dy="2.2">/ exit</tspan></text></g>
<g id="s6_cyan2"><rect class="cy" x="420.7" y="1171.7" width="27.6" height="32.6"/><text class="t k" x="434.5" y="1181.4"><tspan x="434.5">Show page with</tspan><tspan x="434.5" dy="3">corresponding</tspan><tspan x="434.5" dy="3">confirmation</tspan><tspan x="434.5" dy="3">(Downgrading</tspan><tspan x="434.5" dy="3">plan with new</tspan><tspan x="434.5" dy="3">payment method)</tspan></text></g>
<g id="s6_uc2"><polygon class="d" points="472.7,1175.2 485.2,1187.7 472.7,1200.2 460.2,1187.7"/><text class="t w" x="472.7" y="1187.1"><tspan x="472.7">User</tspan><tspan x="472.7" dy="3">confirms?</tspan></text></g>
<g id="s6_exitb"><circle class="cc" cx="472.7" cy="1221.7" r="5.5"/><text class="t k s" x="472.7" y="1220.1"><tspan x="472.7">Expire</tspan><tspan x="472.7" dy="2.2">/ close</tspan><tspan x="472.7" dy="2.2">/ exit</tspan></text></g>
<g id="s6_purple2"><rect class="pu" x="487.7" y="1146" width="24" height="20"/><text class="t w" x="499.7" y="1153.9"><tspan x="499.7">Show page with</tspan><tspan x="499.7" dy="3">corresponding</tspan><tspan x="499.7" dy="3">payment page</tspan></text></g>
<g id="s6_iv2"><polygon class="d" points="540,1143.5 552.5,1156 540,1168.5 527.5,1156"/><text class="t w" x="540" y="1156.9">Is it valid?</text></g>
<g id="s6_green2"><rect class="gr" x="570" y="1146.7" width="31.7" height="18.3" rx="3"/><text class="t w" x="585.85" y="1152.25"><tspan x="585.85">Successful</tspan><tspan x="585.85" dy="3">exit; downgrading user</tspan><tspan x="585.85" dy="3">plan with the new</tspan><tspan x="585.85" dy="3">payment method</tspan></text></g>
<g id="s6_pink2"><rect class="pk" x="529" y="1180" width="23.7" height="20"/><text class="t k" x="540.85" y="1184.9"><tspan x="540.85">Show page with</tspan><tspan x="540.85" dy="3">corresponding</tspan><tspan x="540.85" dy="3">error code (And</tspan><tspan x="540.85" dy="3">payment error</tspan><tspan x="540.85" dy="3">codes)</tspan></text></g>
<g id="s6_op2"><polygon class="d" points="540,1206.5 552.5,1219 540,1231.5 527.5,1219"/><text class="t w" x="540" y="1218.4"><tspan x="540">Other</tspan><tspan x="540" dy="3">payment?</tspan></text></g>
<g id="s6_exit2"><circle class="cc" cx="577.3" cy="1219" r="5.5"/><text class="t k s" x="577.3" y="1217.4"><tspan x="577.3">Expire</tspan><tspan x="577.3" dy="2.2">/ close</tspan><tspan x="577.3" dy="2.2">/ exit</tspan></text></g>

<!-- S7 -->
<g id="s7_choose"><polygon class="d" points="271.7,1347.7 284.4,1362.7 271.7,1377.7 259,1362.7"/><text class="t w" x="271.7" y="1357.7"><tspan x="271.7">Choose</tspan><tspan x="271.7" dy="3">current</tspan><tspan x="271.7" dy="3">payment</tspan><tspan x="271.7" dy="3">option or</tspan><tspan x="271.7" dy="3">new?</tspan></text></g>
<g id="s7_cyan1"><rect class="cy" x="282.3" y="1274" width="23.4" height="30.3"/><text class="t k" x="294" y="1282.55"><tspan x="294">Show page with</tspan><tspan x="294" dy="3">corresponding</tspan><tspan x="294" dy="3">confirmation</tspan><tspan x="294" dy="3">(Starting trial</tspan><tspan x="294" dy="3">with saved</tspan><tspan x="294" dy="3">payment)</tspan></text></g>
<g id="s7_uc1"><polygon class="d" points="337.3,1275.8 349.8,1288.3 337.3,1300.8 324.8,1288.3"/><text class="t w" x="337.3" y="1287.7"><tspan x="337.3">User</tspan><tspan x="337.3" dy="3">confirms?</tspan></text></g>
<g id="s7_iv1"><polygon class="d" points="400,1275.8 412.5,1288.3 400,1300.8 387.5,1288.3"/><text class="t w" x="400" y="1289.2">Is it valid?</text></g>
<g id="s7_green1"><rect class="gr" x="455" y="1280" width="23.3" height="17.3" rx="3"/><text class="t w" x="466.65" y="1285.05"><tspan x="466.65">Successful</tspan><tspan x="466.65" dy="3">exit and user</tspan><tspan x="466.65" dy="3">starts 14-day</tspan><tspan x="466.65" dy="3">free trial</tspan></text></g>
<g id="s7_purple1"><rect class="pu" x="425" y="1304.3" width="24" height="20"/><text class="t w" x="437" y="1312.2"><tspan x="437">Show page with</tspan><tspan x="437" dy="3">corresponding</tspan><tspan x="437" dy="3">payment page</tspan></text></g>
<g id="s7_pink1"><rect class="pk" x="388.3" y="1337.7" width="24.4" height="20"/><text class="t k" x="400.5" y="1342.6"><tspan x="400.5">Show page with</tspan><tspan x="400.5" dy="3">corresponding</tspan><tspan x="400.5" dy="3">error code (And</tspan><tspan x="400.5" dy="3">payment error</tspan><tspan x="400.5" dy="3">codes)</tspan></text></g>
<g id="s7_op1"><polygon class="d" points="437.7,1335.2 450.2,1347.7 437.7,1360.2 425.2,1347.7"/><text class="t w" x="437.7" y="1347.1"><tspan x="437.7">Other</tspan><tspan x="437.7" dy="3">payment?</tspan></text></g>
<g id="s7_exit1"><circle class="cc" cx="452.3" cy="1375.7" r="5.5"/><text class="t k s" x="452.3" y="1374.1"><tspan x="452.3">Expire</tspan><tspan x="452.3" dy="2.2">/ close</tspan><tspan x="452.3" dy="2.2">/ exit</tspan></text></g>
<g id="s7_cyan2"><rect class="cy" x="284.3" y="1413.3" width="24" height="30.7"/><text class="t k" x="296.3" y="1422.05"><tspan x="296.3">Show page with</tspan><tspan x="296.3" dy="3">corresponding</tspan><tspan x="296.3" dy="3">confirmation</tspan><tspan x="296.3" dy="3">(Starting trial</tspan><tspan x="296.3" dy="3">with new</tspan><tspan x="296.3" dy="3">payment)</tspan></text></g>
<g id="s7_uc2"><polygon class="d" points="336,1415.8 348.5,1428.3 336,1440.8 323.5,1428.3"/><text class="t w" x="336" y="1427.7"><tspan x="336">User</tspan><tspan x="336" dy="3">confirms?</tspan></text></g>
<g id="s7_exitb"><circle class="cc" cx="336" cy="1470.7" r="5.5"/><text class="t k s" x="336" y="1469.1"><tspan x="336">Expire</tspan><tspan x="336" dy="2.2">/ close</tspan><tspan x="336" dy="2.2">/ exit</tspan></text></g>
<g id="s7_purple2"><rect class="pu" x="351" y="1386" width="24" height="20.7"/><text class="t w" x="363" y="1394.25"><tspan x="363">Show page with</tspan><tspan x="363" dy="3">corresponding</tspan><tspan x="363" dy="3">payment page</tspan></text></g>
<g id="s7_iv2"><polygon class="d" points="404,1384.2 416.5,1396.7 404,1409.2 391.5,1396.7"/><text class="t w" x="404" y="1397.6">Is it valid?</text></g>
<g id="s7_green2"><rect class="gr" x="430.7" y="1390" width="23.6" height="14" rx="3"/><text class="t w" x="442.5" y="1394.9"><tspan x="442.5">Successful</tspan><tspan x="442.5" dy="3">exit; user starts</tspan><tspan x="442.5" dy="3">14-day trial</tspan></text></g>
<g id="s7_pink2"><rect class="pk" x="391.7" y="1420" width="24.3" height="20"/><text class="t k" x="403.85" y="1424.9"><tspan x="403.85">Show page with</tspan><tspan x="403.85" dy="3">corresponding</tspan><tspan x="403.85" dy="3">error code (And</tspan><tspan x="403.85" dy="3">payment error</tspan><tspan x="403.85" dy="3">codes)</tspan></text></g>
<g id="s7_op2"><polygon class="d" points="404,1447.5 416.5,1460 404,1472.5 391.5,1460"/><text class="t w" x="404" y="1459.4"><tspan x="404">Other</tspan><tspan x="404" dy="3">payment?</tspan></text></g>
<g id="s7_exit2"><circle class="cc" cx="439.3" cy="1460" r="5.5"/><text class="t k s" x="439.3" y="1458.4"><tspan x="439.3">Expire</tspan><tspan x="439.3" dy="2.2">/ close</tspan><tspan x="439.3" dy="2.2">/ exit</tspan></text></g>

<!-- S8 -->
<g id="s8_choose"><polygon class="d" points="278.3,1576 291,1591 278.3,1606 265.6,1591"/><text class="t w" x="278.3" y="1586"><tspan x="278.3">Choose</tspan><tspan x="278.3" dy="3">current</tspan><tspan x="278.3" dy="3">payment</tspan><tspan x="278.3" dy="3">option or</tspan><tspan x="278.3" dy="3">new?</tspan></text></g>
<g id="s8_cyan1"><rect class="cy" x="289.3" y="1501.7" width="23.4" height="31"/><text class="t k" x="301" y="1510.6"><tspan x="301">Show page with</tspan><tspan x="301" dy="3">corresponding</tspan><tspan x="301" dy="3">confirmation</tspan><tspan x="301" dy="3">(Paid plan</tspan><tspan x="301" dy="3">with saved</tspan><tspan x="301" dy="3">payment)</tspan></text></g>
<g id="s8_uc1"><polygon class="d" points="344.3,1504.2 356.8,1516.7 344.3,1529.2 331.8,1516.7"/><text class="t w" x="344.3" y="1516.1"><tspan x="344.3">User</tspan><tspan x="344.3" dy="3">confirms?</tspan></text></g>
<g id="s8_iv1"><polygon class="d" points="406.7,1504.2 419.2,1516.7 406.7,1529.2 394.2,1516.7"/><text class="t w" x="406.7" y="1517.6">Is it valid?</text></g>
<g id="s8_green1"><rect class="gr" x="461.7" y="1507.3" width="23.3" height="17.7" rx="3"/><text class="t w" x="473.35" y="1512.55"><tspan x="473.35">Successful</tspan><tspan x="473.35" dy="3">exit; user starts</tspan><tspan x="473.35" dy="3">the paid plan</tspan><tspan x="473.35" dy="3">directly</tspan></text></g>
<g id="s8_purple1"><rect class="pu" x="431.7" y="1531.7" width="24" height="20.6"/><text class="t w" x="443.7" y="1539.9"><tspan x="443.7">Show page with</tspan><tspan x="443.7" dy="3">corresponding</tspan><tspan x="443.7" dy="3">payment page</tspan></text></g>
<g id="s8_pink1"><rect class="pk" x="395.3" y="1565" width="24" height="20.7"/><text class="t k" x="407.3" y="1570.25"><tspan x="407.3">Show page with</tspan><tspan x="407.3" dy="3">corresponding</tspan><tspan x="407.3" dy="3">error code (And</tspan><tspan x="407.3" dy="3">payment error</tspan><tspan x="407.3" dy="3">codes)</tspan></text></g>
<g id="s8_op1"><polygon class="d" points="442.7,1563.2 455.2,1575.7 442.7,1588.2 430.2,1575.7"/><text class="t w" x="442.7" y="1575.1"><tspan x="442.7">Other</tspan><tspan x="442.7" dy="3">payment?</tspan></text></g>
<g id="s8_exit1"><circle class="cc" cx="459" cy="1604" r="5.5"/><text class="t k s" x="459" y="1602.4"><tspan x="459">Expire</tspan><tspan x="459" dy="2.2">/ close</tspan><tspan x="459" dy="2.2">/ exit</tspan></text></g>
<g id="s8_cyan2"><rect class="cy" x="290.7" y="1639.3" width="24.3" height="33"/><text class="t k" x="302.85" y="1649.2"><tspan x="302.85">Show page with</tspan><tspan x="302.85" dy="3">corresponding</tspan><tspan x="302.85" dy="3">confirmation</tspan><tspan x="302.85" dy="3">(Paid plan</tspan><tspan x="302.85" dy="3">with new</tspan><tspan x="302.85" dy="3">payment)</tspan></text></g>
<g id="s8_uc2"><polygon class="d" points="343.3,1643.2 355.8,1655.7 343.3,1668.2 330.8,1655.7"/><text class="t w" x="343.3" y="1655.1"><tspan x="343.3">User</tspan><tspan x="343.3" dy="3">confirms?</tspan></text></g>
<g id="s8_exitb"><circle class="cc" cx="343.3" cy="1694" r="5.5"/><text class="t k s" x="343.3" y="1692.4"><tspan x="343.3">Expire</tspan><tspan x="343.3" dy="2.2">/ close</tspan><tspan x="343.3" dy="2.2">/ exit</tspan></text></g>
<g id="s8_purple2"><rect class="pu" x="357.3" y="1614.3" width="24.4" height="20.7"/><text class="t w" x="369.5" y="1622.55"><tspan x="369.5">Show page with</tspan><tspan x="369.5" dy="3">corresponding</tspan><tspan x="369.5" dy="3">payment page</tspan></text></g>
<g id="s8_iv2"><polygon class="d" points="410,1611.8 422.5,1624.3 410,1636.8 397.5,1624.3"/><text class="t w" x="410" y="1625.2">Is it valid?</text></g>
<g id="s8_green2"><rect class="gr" x="442.3" y="1616.7" width="23.4" height="16.6" rx="3"/><text class="t w" x="454" y="1621.4"><tspan x="454">Successful</tspan><tspan x="454" dy="3">exit; user starts</tspan><tspan x="454" dy="3">the paid plan</tspan><tspan x="454" dy="3">directly</tspan></text></g>
<g id="s8_pink2"><rect class="pk" x="397.7" y="1648.3" width="24" height="20"/><text class="t k" x="409.7" y="1653.2"><tspan x="409.7">Show page with</tspan><tspan x="409.7" dy="3">corresponding</tspan><tspan x="409.7" dy="3">error code (And</tspan><tspan x="409.7" dy="3">payment error</tspan><tspan x="409.7" dy="3">codes)</tspan></text></g>
<g id="s8_op2"><polygon class="d" points="410,1671.5 422.5,1684 410,1696.5 397.5,1684"/><text class="t w" x="410" y="1683.4"><tspan x="410">Other</tspan><tspan x="410" dy="3">payment?</tspan></text></g>
<g id="s8_exit2"><circle class="cc" cx="447.7" cy="1684" r="5.5"/><text class="t k s" x="447.7" y="1682.4"><tspan x="447.7">Expire</tspan><tspan x="447.7" dy="2.2">/ close</tspan><tspan x="447.7" dy="2.2">/ exit</tspan></text></g>

<!-- S9 NEW USER -->
<g id="d_elignew"><polygon class="d" points="208.3,1798.2 220.8,1810.7 208.3,1823.2 195.8,1810.7"/><text class="t w" x="208.3" y="1808.6"><tspan x="208.3">Eligible</tspan><tspan x="208.3" dy="3">for free</tspan><tspan x="208.3" dy="3">trial?</tspan></text></g>
<g id="s9_cyan1"><rect class="cy" x="236.7" y="1743.3" width="23.3" height="32.7"/><text class="t k" x="248.35" y="1753.05"><tspan x="248.35">Show page with</tspan><tspan x="248.35" dy="3">corresponding</tspan><tspan x="248.35" dy="3">confirmation</tspan><tspan x="248.35" dy="3">(Show plan</tspan><tspan x="248.35" dy="3">free trial</tspan><tspan x="248.35" dy="3">details)</tspan></text></g>
<g id="s9_uc1"><polygon class="d" points="289.3,1747.5 301.8,1760 289.3,1772.5 276.8,1760"/><text class="t w" x="289.3" y="1759.4"><tspan x="289.3">User</tspan><tspan x="289.3" dy="3">confirms?</tspan></text></g>
<g id="s9_exitb"><circle class="cc" cx="289.3" cy="1801.7" r="5.5"/><text class="t k s" x="289.3" y="1800.1"><tspan x="289.3">Expire</tspan><tspan x="289.3" dy="2.2">/ close</tspan><tspan x="289.3" dy="2.2">/ exit</tspan></text></g>
<g id="s9_purple1"><rect class="pu" x="305.3" y="1719" width="22.4" height="19.3"/><text class="t w" x="316.5" y="1726.55"><tspan x="316.5">Show page with</tspan><tspan x="316.5" dy="3">corresponding</tspan><tspan x="316.5" dy="3">payment page</tspan></text></g>
<g id="s9_iv1"><polygon class="d" points="357.3,1715.8 369.8,1728.3 357.3,1740.8 344.8,1728.3"/><text class="t w" x="357.3" y="1729.2">Is it valid?</text></g>
<g id="s9_green1"><rect class="gr" x="388.3" y="1723.3" width="23.4" height="10" rx="3"/><text class="t w" x="400" y="1727.7"><tspan x="400">Successful exit;</tspan><tspan x="400" dy="3">user starts trial</tspan></text></g>
<g id="s9_pink1"><rect class="pk" x="345.7" y="1752.7" width="23.6" height="20"/><text class="t k" x="357.5" y="1757.6"><tspan x="357.5">Show page with</tspan><tspan x="357.5" dy="3">corresponding</tspan><tspan x="357.5" dy="3">error code (And</tspan><tspan x="357.5" dy="3">payment error</tspan><tspan x="357.5" dy="3">codes)</tspan></text></g>
<g id="s9_op1"><polygon class="d" points="357.3,1778.5 369.8,1791 357.3,1803.5 344.8,1791"/><text class="t w" x="357.3" y="1790.4"><tspan x="357.3">Other</tspan><tspan x="357.3" dy="3">payment?</tspan></text></g>
<g id="s9_exit1"><circle class="cc" cx="393.3" cy="1791" r="5.5"/><text class="t k s" x="393.3" y="1789.4"><tspan x="393.3">Expire</tspan><tspan x="393.3" dy="2.2">/ close</tspan><tspan x="393.3" dy="2.2">/ exit</tspan></text></g>
<g id="s9_cyan2"><rect class="cy" x="237.3" y="1859" width="22.7" height="20"/><text class="t k" x="248.65" y="1865.4"><tspan x="248.65">Show page with</tspan><tspan x="248.65" dy="3">corresponding</tspan><tspan x="248.65" dy="3">confirmation</tspan><tspan x="248.65" dy="3">(Paid plan)</tspan></text></g>
<g id="s9_uc2"><polygon class="d" points="290,1856.5 302.5,1869 290,1881.5 277.5,1869"/><text class="t w" x="290" y="1868.4"><tspan x="290">User</tspan><tspan x="290" dy="3">confirms?</tspan></text></g>
<g id="s9_purple2"><rect class="pu" x="306.7" y="1817.3" width="24" height="20.4"/><text class="t w" x="318.7" y="1825.4"><tspan x="318.7">Show page with</tspan><tspan x="318.7" dy="3">corresponding</tspan><tspan x="318.7" dy="3">payment page</tspan></text></g>
<g id="s9_iv2"><polygon class="d" points="357.3,1814.8 369.8,1827.3 357.3,1839.8 344.8,1827.3"/><text class="t w" x="357.3" y="1828.2">Is it valid?</text></g>
<g id="s9_green2"><rect class="gr" x="388.3" y="1822.7" width="23.4" height="10" rx="3"/><text class="t w" x="400" y="1827.1"><tspan x="400">Successful exit;</tspan><tspan x="400" dy="3">user starts plan</tspan></text></g>
<g id="s9_pink2"><rect class="pk" x="345.7" y="1851.7" width="23.6" height="21"/><text class="t k" x="357.5" y="1857.1"><tspan x="357.5">Show page with</tspan><tspan x="357.5" dy="3">corresponding</tspan><tspan x="357.5" dy="3">error code (And</tspan><tspan x="357.5" dy="3">payment error</tspan><tspan x="357.5" dy="3">codes)</tspan></text></g>
<g id="s9_op2"><polygon class="d" points="357.3,1878.2 369.8,1890.7 357.3,1903.2 344.8,1890.7"/><text class="t w" x="357.3" y="1890.1"><tspan x="357.3">Other</tspan><tspan x="357.3" dy="3">payment?</tspan></text></g>
<g id="s9_exit2"><circle class="cc" cx="394.3" cy="1890.7" r="5.5"/><text class="t k s" x="394.3" y="1889.1"><tspan x="394.3">Expire</tspan><tspan x="394.3" dy="2.2">/ close</tspan><tspan x="394.3" dy="2.2">/ exit</tspan></text></g>

<!-- bottom -->
<g id="login_page"><rect class="pk" x="198.3" y="1928.3" width="24" height="20.7"/><text class="t k" x="210.3" y="1933.55"><tspan x="210.3">Show page with</tspan><tspan x="210.3" dy="3">corresponding</tspan><tspan x="210.3" dy="3">login page</tspan><tspan x="210.3" dy="3">(Sign in /</tspan><tspan x="210.3" dy="3">sign up)</tspan></text></g>
<g id="d_final"><polygon class="d" points="288.5,1925.3 301,1938.3 288.5,1951.3 276,1938.3"/><text class="t w" x="288.5" y="1937.7"><tspan x="288.5">User</tspan><tspan x="288.5" dy="3">logged in?</tspan></text></g>
<g id="final_exitc"><circle class="cc" cx="309.3" cy="1928.3" r="5"/><text class="t k s" x="309.3" y="1926.7"><tspan x="309.3">Expire</tspan><tspan x="309.3" dy="2.2">/ close</tspan><tspan x="309.3" dy="2.2">/ exit</tspan></text></g>
<g id="final_exit"><rect class="rd" x="353.3" y="1932.7" width="22.4" height="11.3" rx="2"/><text class="t w" x="364.5" y="1937.75"><tspan x="364.5">Unsuccessful</tspan><tspan x="364.5" dy="3">exit</tspan></text></g>
</svg>
